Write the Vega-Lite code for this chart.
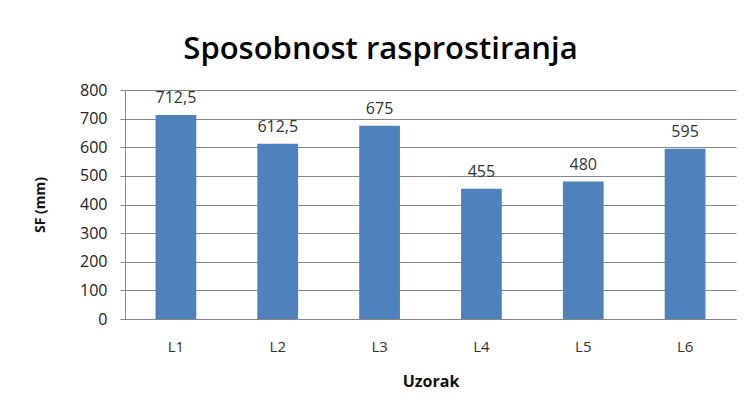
{
  "$schema": "https://vega.github.io/schema/vega-lite/v6.json",
  "autosize": {"type": "none"},
  "width": 611,
  "height": 229,
  "padding": {"left": 125, "top": 90, "right": 12, "bottom": 95},
  "background": "white",
  "title": {
    "text": "Sposobnost rasprostiranja",
    "font": "Open Sans",
    "fontSize": 31,
    "fontWeight": 600,
    "color": "#000000",
    "anchor": "middle",
    "dx": -50,
    "offset": 16
  },
  "config": {
    "view": {"stroke": null},
    "font": "Open Sans"
  },
  "data": {
    "values": [
      {"uzorak": "L1", "sf": 712.5, "label": "712,5"},
      {"uzorak": "L2", "sf": 612.5, "label": "612,5"},
      {"uzorak": "L3", "sf": 675, "label": "675"},
      {"uzorak": "L4", "sf": 455, "label": "455"},
      {"uzorak": "L5", "sf": 480, "label": "480"},
      {"uzorak": "L6", "sf": 595, "label": "595"}
    ]
  },
  "encoding": {
    "x": {
      "field": "uzorak",
      "type": "nominal",
      "sort": null,
      "scale": {"paddingInner": 0.6, "paddingOuter": 0.3},
      "axis": {
        "title": "Uzorak",
        "titleFont": "Open Sans",
        "titleFontSize": 16,
        "titleFontWeight": "bold",
        "titleColor": "#111111",
        "titlePadding": 19,
        "labelAngle": 0,
        "labelFont": "Open Sans",
        "labelFontSize": 15,
        "labelColor": "#333333",
        "labelPadding": 20,
        "ticks": false,
        "domainColor": "#868686",
        "grid": false
      }
    },
    "y": {
      "field": "sf",
      "type": "quantitative",
      "scale": {"domain": [0, 800], "nice": false},
      "axis": {
        "title": "SF (mm)",
        "titleFont": "Open Sans",
        "titleFontSize": 14,
        "titleFontWeight": "bold",
        "titleColor": "#111111",
        "titleX": -78,
        "values": [0, 100, 200, 300, 400, 500, 600, 700, 800],
        "labelFont": "Open Sans",
        "labelFontSize": 16,
        "labelColor": "#222222",
        "labelPadding": 13,
        "tickSize": 5,
        "tickColor": "#868686",
        "domainColor": "#868686",
        "gridColor": "#868686",
        "gridWidth": 1
      }
    }
  },
  "layer": [
    {"mark": {"type": "bar", "color": "#4F81BD"}},
    {
      "mark": {"type": "text", "baseline": "bottom", "dy": -9, "font": "Open Sans", "fontSize": 16, "color": "#333333"},
      "encoding": {"text": {"field": "label"}}
    }
  ]
}
